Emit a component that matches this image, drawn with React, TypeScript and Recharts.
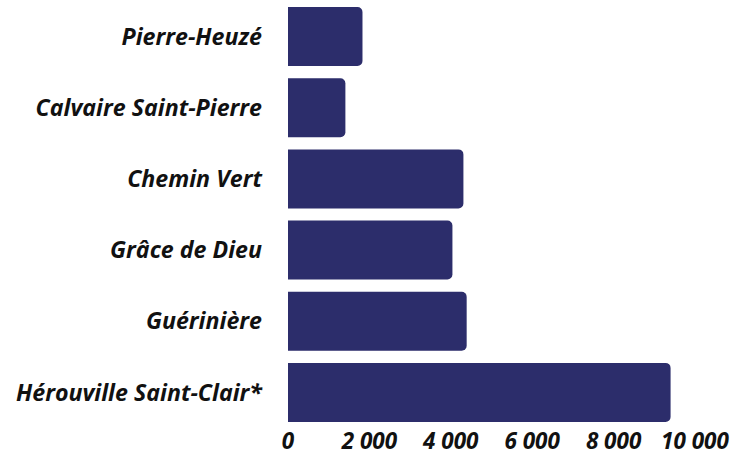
import { BarChart, Bar, XAxis, YAxis } from 'recharts';

const quartiers = [
  'Pierre-Heuzé',
  'Calvaire Saint-Pierre',
  'Chemin Vert',
  'Grâce de Dieu',
  'Guérinière',
  'Hérouville Saint-Clair*',
];
const valeurs = [1830, 1410, 4310, 4040, 4390, 9400];
const xTicks = [0, 2000, 4000, 6000, 8000, 10000];

const data = quartiers.map((name, i) => ({ name, value: valeurs[i] }));

const BAR_COLOR = '#2c2d6b';
const fontBase = {
  fontFamily: '"Open Sans", sans-serif',
  fontWeight: 700,
  fontStyle: 'italic',
  fill: '#111',
};

// 2000 -> "2 000"
const fmt = (v: number) => String(v).replace(/\B(?=(\d{3})+(?!\d))/g, ' ');

export default function App() {
  return (
    <div style={{ position: 'absolute', left: 0, top: 0, background: '#fff' }}>
      <BarChart
        width={734}
        height={457}
        data={data}
        layout="vertical"
        margin={{ top: 1, right: 39, bottom: 0, left: 0 }}
        barCategoryGap="8.5%"
      >
        <XAxis
          type="number"
          domain={[0, 10000]}
          ticks={xTicks}
          tickFormatter={fmt}
          axisLine={false}
          tickLine={false}
          tickSize={0}
          tickMargin={5}
          height={29}
          interval={0}
          tick={{ ...fontBase, fontSize: 22.5 }}
        />
        <YAxis
          type="category"
          dataKey="name"
          width={288}
          axisLine={false}
          tickLine={false}
          tickSize={0}
          tickMargin={26}
          interval={0}
          tick={{ ...fontBase, fontSize: 23.2 }}
        />
        <Bar dataKey="value" fill={BAR_COLOR} radius={[0, 5, 5, 0]} isAnimationActive={false} />
      </BarChart>
    </div>
  );
}
